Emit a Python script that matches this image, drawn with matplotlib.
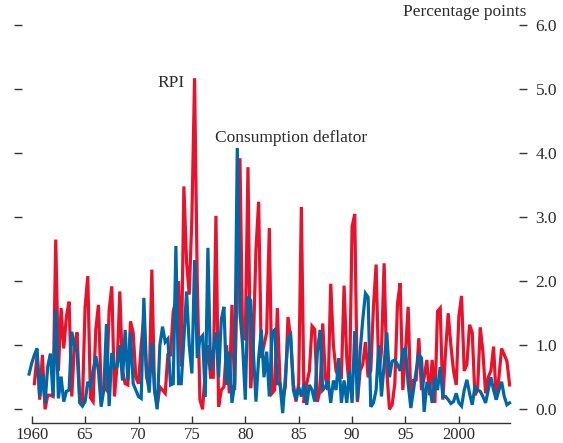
import numpy as np
import matplotlib
matplotlib.use("Agg")
import matplotlib.pyplot as plt

nan = np.nan
start_year = 1959.75  # first quarter plotted (1959 Q4)

rpi = [nan,
    nan, 0.40, 0.85, 0.15,   # 1960
    0.85, 0.00, 0.22, 0.22,  # 1961
    0.20, 2.65, 0.60, 1.58,  # 1962
    0.95, 1.45, 1.68, 0.20,  # 1963
    1.00, 1.20, 0.12, 0.12,  # 1964
    1.60, 2.08, 0.18, 0.12,  # 1965
    1.25, 1.63, 0.30, 0.35,  # 1966
    0.30, 1.55, 1.92, 0.20,  # 1967
    0.70, 1.84, 0.60, 0.40,  # 1968
    0.38, 1.37, 1.20, 0.50,  # 1969
    0.40, 1.00, 1.45, 0.50,  # 1970
    0.35, 2.18, 0.30, 0.05,  # 1971
    0.35, 0.30, 0.25, 0.85,  # 1972
    0.85, 1.53, 1.70, 2.00,  # 1973
    0.67, 3.48, 2.30, 1.79,  # 1974
    3.00, 5.17, 2.00, 0.15,  # 1975
    0.00, 0.60, 1.00, 0.50,  # 1976
    0.50, 3.02, 0.04, 0.30,  # 1977
    0.35, 1.00, 0.25, 1.63,  # 1978
    0.30, 2.00, 3.92, 1.10,  # 1979
    1.10, 3.78, 0.33, 1.00,  # 1980
    2.50, 3.24, 0.80, 1.00,  # 1981
    1.20, 2.83, 0.25, 0.30,  # 1982
    1.58, 0.40, 0.15, 0.35,  # 1983
    1.44, 1.10, 0.40, 0.12,  # 1984
    0.40, 3.16, 0.10, 0.40,  # 1985
    0.60, 1.30, 1.25, 0.12,  # 1986
    0.30, 1.34, 0.50, 0.30,  # 1987
    1.96, 1.00, 0.60, 0.50,  # 1988
    0.50, 1.93, 0.80, 0.30,  # 1989
    2.85, 3.05, 0.12, 0.60,  # 1990
    0.70, 1.05, 0.50, 0.60,  # 1991
    1.60, 2.26, 0.55, 0.90,  # 1992
    2.28, 0.60, 0.00, 0.07,  # 1993
    0.40, 1.65, 1.97, 0.30,  # 1994
    0.90, 1.60, 0.15, 0.45,  # 1995
    0.46, 1.11, 0.30, 0.50,  # 1996
    0.77, 0.22, 0.77, 0.10,  # 1997
    1.53, 1.58, 0.15, 0.90,  # 1998
    1.50, 1.00, 0.60, 0.38,  # 1999
    1.45, 1.77, 0.60, 0.70,  # 2000
    1.32, 1.20, 0.22, 0.30,  # 2001
    1.28, 0.90, 0.25, 0.50,  # 2002
    0.60, 0.98, 0.15, 0.50,  # 2003
    0.95, 0.85, 0.75, 0.38,  # 2004
]

deflator = [0.55,
    0.72, 0.85, 0.95, 0.20,  # 1960
    0.55, 0.10, 0.67, 0.87,  # 1961
    0.20, 1.55, 0.17, 0.51,  # 1962
    0.12, 0.28, 0.30, 1.21,  # 1963
    1.00, 0.90, 0.10, 0.05,  # 1964
    0.12, 0.43, 0.35, 0.60,  # 1965
    0.83, 0.60, 0.04, 0.30,  # 1966
    1.33, 0.05, 0.88, 0.65,  # 1967
    0.67, 1.00, 0.45, 1.24,  # 1968
    0.45, 1.20, 0.40, 0.30,  # 1969
    0.20, 0.17, 1.74, 0.60,  # 1970
    0.26, 1.04, 0.30, 0.00,  # 1971
    1.00, 1.29, 1.05, 1.10,  # 1972
    0.38, 0.40, 2.55, 0.40,  # 1973
    0.40, 1.10, 1.84, 1.00,  # 1974
    0.56, 2.33, 0.80, 1.10,  # 1975
    1.15, 0.19, 2.52, 0.60,  # 1976
    0.90, 1.20, 0.50, 1.40,  # 1977
    1.60, 0.38, 0.90, 0.10,  # 1978
    0.40, 4.08, 1.50, 1.00,  # 1979
    0.15, 1.76, 1.70, 0.90,  # 1980
    0.12, 0.80, 1.24, 0.50,  # 1981
    0.90, 0.20, 1.20, 1.24,  # 1982
    0.40, 0.40, -0.06, 0.50, # 1983
    1.10, 1.16, 0.30, 0.15,  # 1984
    0.35, 0.20, 0.40, 0.07,  # 1985
    0.38, 0.30, 0.12, 0.90,  # 1986
    1.24, 0.30, 0.35, 0.45,  # 1987
    0.10, 0.45, 0.30, 0.80,  # 1988
    0.10, 0.45, 0.10, 0.60,  # 1989
    0.10, 1.22, 0.15, 0.90,  # 1990
    1.40, 1.81, 1.75, 0.04,  # 1991
    0.10, 0.30, 1.00, 0.20,  # 1992
    0.70, 1.20, 0.50, 0.75,  # 1993
    0.77, 0.70, 0.60, 0.92,  # 1994
    0.95, 0.40, 0.02, 0.30,  # 1995
    0.60, 0.85, 0.80, -0.04, # 1996
    0.40, 0.38, 0.10, 0.50,  # 1997
    0.30, 0.66, 0.20, 0.20,  # 1998
    0.15, 0.09, 0.12, 0.25,  # 1999
    0.10, 0.05, 0.30, 0.46,  # 2000
    0.25, 0.07, 0.35, 0.30,  # 2001
    0.28, 0.20, 0.10, 0.30,  # 2002
    0.50, 0.30, 0.15, 0.30,  # 2003
    0.43, 0.20, 0.07, 0.10,  # 2004
]

xtick_years = [1960, 1965, 1970, 1975, 1980, 1985, 1990, 1995, 2000]
xtick_labels = ["1960", "65", "70", "75", "80", "85", "90", "95", "2000"]
ytick_values = [0, 1, 2, 3, 4, 5, 6]
ytick_labels = ["0.0", "1.0", "2.0", "3.0", "4.0", "5.0", "6.0"]

plt.rcParams['font.family'] = ['Liberation Serif', 'DejaVu Serif']
text_color = '#2b2b2b'
fs = 12.5

W, H = 563, 443
fig = plt.figure(figsize=(W / 100, H / 100), dpi=100)
left_px, right_px, top_px, bottom_px = 22, 519, 25, 423
ax = fig.add_axes([left_px / W, (H - bottom_px) / H,
                   (right_px - left_px) / W, (bottom_px - top_px) / H])

t = start_year + 0.25 * np.arange(len(deflator))
red = '#E8122D'
blue = '#0067A6'
ax.plot(t, rpi, color=red, lw=2.3, solid_joinstyle='miter', zorder=2)
ax.plot(t, deflator, color=blue, lw=2.3, solid_joinstyle='miter', zorder=3)

ax.set_xlim(1959.09, 2005.63)
ax.set_ylim(-0.214, 6.0)

for s in ['top', 'left', 'right']:
    ax.spines[s].set_visible(False)
ax.spines['bottom'].set_bounds(1960, 2004.75)
ax.spines['bottom'].set_color('#333333')
ax.spines['bottom'].set_linewidth(1.0)

ax.set_xticks(xtick_years)
ax.set_xticklabels(xtick_labels)
ax.tick_params(axis='x', direction='in', length=5, width=1, color='#333333',
               pad=3, labelsize=12, labelcolor=text_color)

ax.set_yticks(ytick_values)
ax.set_yticklabels(ytick_labels)
ax.tick_params(axis='y', which='both', left=True, right=True, labelleft=False,
               labelright=True, direction='out', length=6, width=1,
               color='#333333', pad=6, labelsize=fs, labelcolor=text_color)

ax.text(1974.3, 5.1, "RPI", ha='right', va='center', fontsize=fs, color=text_color)
ax.text(1977.2, 4.24, "Consumption deflator", ha='left', va='center',
        fontsize=fs, color=text_color)
fig.text(526 / W, 1 - 12 / H, "Percentage points", ha='right', va='center',
         fontsize=fs, color=text_color)

fig.savefig("out.png", dpi=100)
